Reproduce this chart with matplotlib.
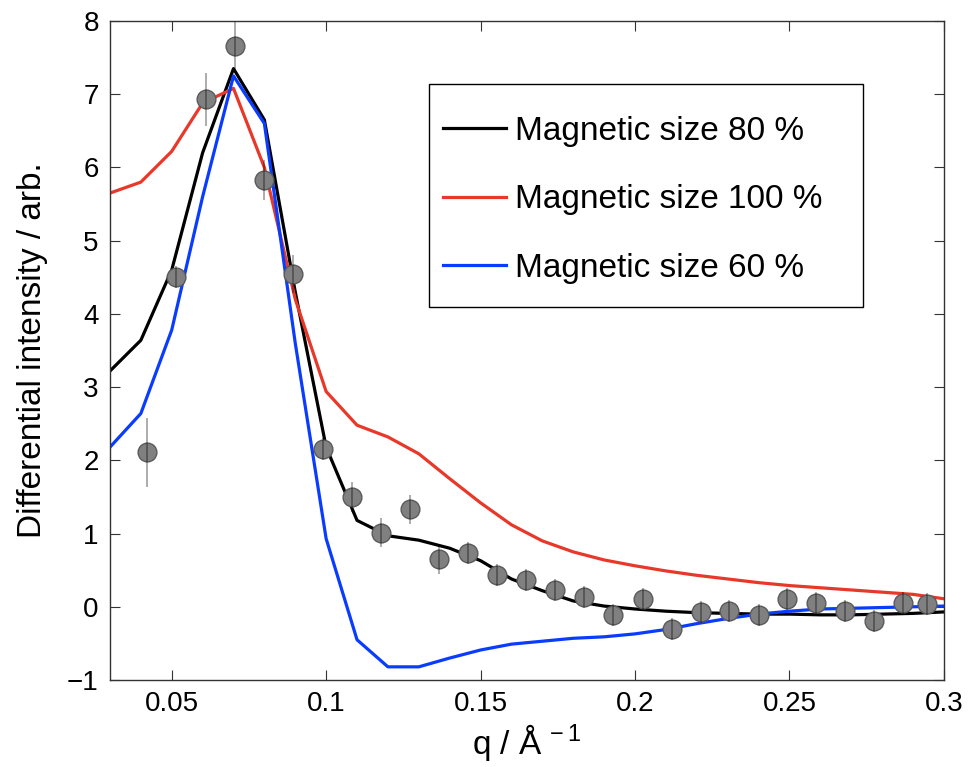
import matplotlib
matplotlib.use('Agg')
import matplotlib.pyplot as plt
from matplotlib.patches import Rectangle
import numpy as np

plt.rcParams['font.family'] = ['Liberation Sans', 'DejaVu Sans']
plt.rcParams['mathtext.fontset'] = 'custom'
plt.rcParams['mathtext.rm'] = 'Liberation Sans'
plt.rcParams['axes.unicode_minus'] = True

# measured points
q_data = [0.042, 0.0514, 0.061, 0.0705, 0.0799, 0.0894, 0.0989, 0.1083, 0.1177,
          0.1271, 0.1365, 0.1458, 0.1554, 0.1647, 0.1741, 0.1836, 0.193, 0.2025,
          0.2119, 0.2214, 0.2305, 0.240, 0.2491, 0.2585, 0.268, 0.2774, 0.2867, 0.2945]
i_data = [2.11, 4.50, 6.93, 7.66, 5.83, 4.54, 2.16, 1.50, 1.01,
          1.33, 0.65, 0.73, 0.43, 0.36, 0.23, 0.135, -0.115, 0.10,
          -0.30, -0.07, -0.06, -0.115, 0.10, 0.053, -0.06, -0.197, 0.055, 0.035]
i_err = [0.47, 0.15, 0.36, 0.32, 0.27, 0.26, 0.15, 0.2, 0.2,
         0.2, 0.2, 0.15, 0.15, 0.15, 0.15, 0.15, 0.15, 0.15,
         0.15, 0.15, 0.15, 0.15, 0.15, 0.15, 0.15, 0.15, 0.15, 0.15]

# model curves
q_model = [0.03, 0.04, 0.05, 0.06, 0.07, 0.08, 0.09, 0.10, 0.11, 0.12, 0.13, 0.14,
           0.15, 0.16, 0.17, 0.18, 0.19, 0.20, 0.21, 0.22, 0.23, 0.24, 0.25, 0.26,
           0.27, 0.28, 0.29, 0.30]
size80 = [3.22, 3.64, 4.6, 6.2, 7.35, 6.65, 4.3, 2.18, 1.18, 0.97, 0.91, 0.8,
          0.63, 0.38, 0.22, 0.08, 0.01, -0.03, -0.06, -0.08, -0.09, -0.1, -0.1, -0.11,
          -0.11, -0.1, -0.09, -0.07]
size100 = [5.65, 5.8, 6.22, 6.88, 7.08, 6.0, 4.2, 2.94, 2.48, 2.32, 2.09, 1.75,
           1.42, 1.12, 0.9, 0.75, 0.64, 0.56, 0.49, 0.43, 0.38, 0.33, 0.29, 0.26,
           0.23, 0.2, 0.17, 0.11]
size60 = [2.18, 2.64, 3.78, 5.6, 7.25, 6.6, 3.6, 0.93, -0.45, -0.82, -0.82, -0.7,
          -0.59, -0.51, -0.47, -0.43, -0.41, -0.37, -0.31, -0.23, -0.16, -0.1, -0.06, -0.03,
          -0.02, -0.01, 0.0, 0.01]

series = [
    (size80, 'black', 'Magnetic size 80 %'),
    (size100, '#e8382a', 'Magnetic size 100 %'),
    (size60, '#0a3cff', 'Magnetic size 60 %'),
]

x_ticks = [0.05, 0.1, 0.15, 0.2, 0.25, 0.3]
x_ticklabels = ['0.05', '0.1', '0.15', '0.2', '0.25', '0.3']
y_ticks = list(range(-1, 9))

fig = plt.figure(figsize=(9.68, 7.67), dpi=100)
ax = fig.add_axes([0.1136, 0.1134, 0.8614, 0.8592])

for values, color, label in series:
    ax.plot(q_model, values, color=color, lw=2.3, label=label, zorder=2)

ax.plot(q_data, i_data, 'o', ms=13.5, mfc='#808080', mec='#5a5a5a', mew=1.0, zorder=3)
ax.errorbar(q_data, i_data, yerr=i_err, fmt='none', ecolor='black', alpha=0.35,
            elinewidth=1.3, capsize=0, zorder=4)

ax.set_xlim(0.03, 0.3)
ax.set_ylim(-1, 8)
ax.set_xticks(x_ticks)
ax.set_xticklabels(x_ticklabels)
ax.set_yticks(y_ticks)
ax.tick_params(direction='in', length=7, width=0.8, top=True, right=True,
               labelsize=20, colors='#333333', labelcolor='black', pad=8)
for s in ax.spines.values():
    s.set_color('#333333')
    s.set_linewidth(1.0)

ax.set_xlabel('q / Å$^{\\,-1}$', fontsize=24, labelpad=4)
ax.set_ylabel('Differential intensity / arb.', fontsize=24, labelpad=14)

# legend box drawn separately so its size matches the original
ax.add_patch(Rectangle((429 / 968, 1 - 307 / 767), 434 / 968, 223 / 767,
                       transform=fig.transFigure, fill=True, facecolor='white',
                       edgecolor='black', lw=1.0, zorder=5, clip_on=False))
leg = ax.legend(loc='upper left', bbox_to_anchor=(443 / 968, 1 - 116 / 767),
                bbox_transform=fig.transFigure, frameon=False, fontsize=24,
                handlelength=1.9, handletextpad=0.25, labelspacing=1.12,
                borderpad=0, borderaxespad=0)
leg.set_zorder(6)

fig.savefig('out.png', dpi=100)
